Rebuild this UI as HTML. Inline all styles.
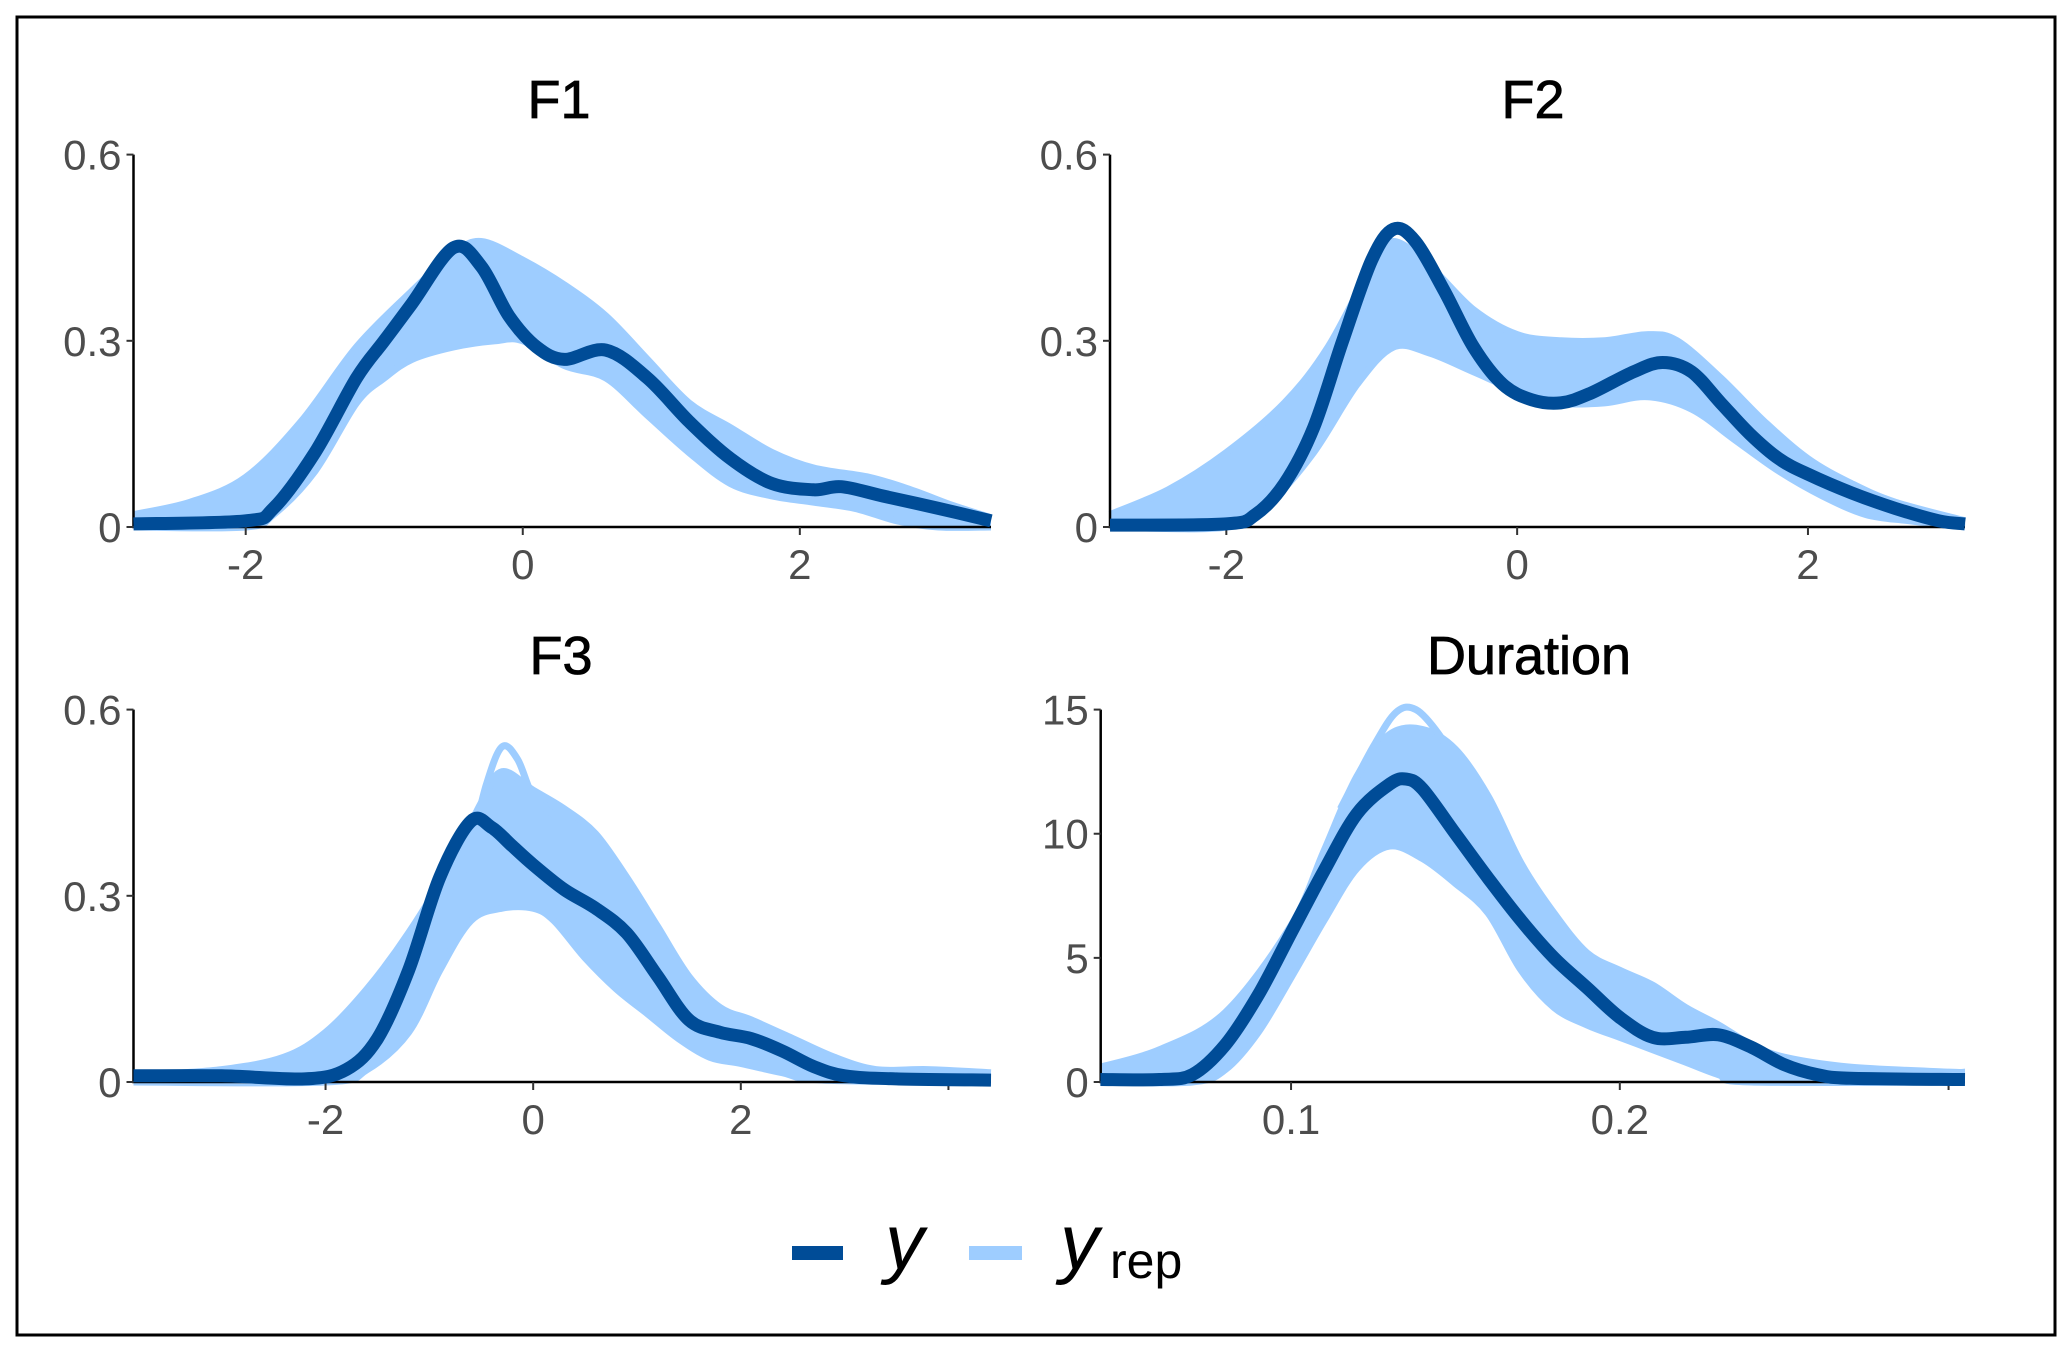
<!DOCTYPE html>
<html><head><meta charset="utf-8"><style>
html,body{margin:0;padding:0;background:#fff}
svg{display:block}
text{font-family:"Liberation Sans",sans-serif}
</style></head><body>
<svg id="chart" width="2072" height="1354" viewBox="0 0 2072 1354">
<rect x="17" y="17" width="2038" height="1318" fill="#fff" stroke="#000" stroke-width="3"/>
<g id="panels"></g>
<g>
<rect x="792" y="1246" width="51" height="14" fill="#004c97"/>
<text x="885" y="1269" font-size="78" font-style="italic" fill="#000">y</text>
<rect x="969" y="1246" width="53" height="14" fill="#9ecdff"/>
<text x="1060" y="1269" font-size="78" font-style="italic" fill="#000">y</text>
<text x="1110" y="1278" font-size="50" fill="#000">rep</text>
</g>
</svg>
<script>
// ---- data ----
const f1Y = [[-2.81,0.005],[-2,0.01],[-1.8,0.03],[-1.5,0.12],[-1.2,0.24],[-1,0.3],[-0.8,0.36],[-0.5,0.45],[-0.3,0.42],[-0.1,0.34],[0.1,0.29],[0.3,0.27],[0.6,0.285],[0.9,0.24],[1.2,0.17],[1.5,0.11],[1.8,0.07],[2.1,0.06],[2.3,0.065],[2.6,0.05],[3.0,0.03],[3.38,0.01]];
const f1High = [[-2.81,0.02],[-2.4,0.04],[-2,0.08],[-1.6,0.17],[-1.2,0.29],[-0.8,0.38],[-0.5,0.44],[-0.3,0.46],[0,0.43],[0.3,0.39],[0.6,0.34],[0.9,0.27],[1.2,0.2],[1.5,0.16],[1.8,0.12],[2.1,0.095],[2.5,0.08],[2.8,0.06],[3.1,0.035],[3.38,0.015]];
const f1Low = [[-2.81,0],[-2,0],[-1.8,0.02],[-1.5,0.09],[-1.2,0.2],[-1,0.24],[-0.8,0.27],[-0.5,0.29],[-0.2,0.3],[0,0.3],[0.3,0.26],[0.6,0.24],[0.9,0.18],[1.2,0.12],[1.5,0.07],[1.8,0.05],[2.1,0.04],[2.4,0.03],[2.7,0.01],[3.0,0],[3.38,0]];
const f2Y = [[-2.8,0.003],[-2,0.005],[-1.8,0.02],[-1.6,0.07],[-1.4,0.16],[-1.2,0.3],[-1.0,0.43],[-0.85,0.48],[-0.7,0.46],[-0.5,0.38],[-0.3,0.29],[-0.1,0.23],[0.1,0.205],[0.3,0.2],[0.5,0.215],[0.8,0.25],[1.0,0.265],[1.2,0.25],[1.4,0.2],[1.6,0.15],[1.8,0.11],[2.0,0.085],[2.3,0.055],[2.6,0.03],[2.9,0.01],[3.08,0.005]];
const f2High = [[-2.8,0.02],[-2.4,0.06],[-2,0.12],[-1.6,0.2],[-1.3,0.29],[-1.0,0.42],[-0.85,0.46],[-0.6,0.42],[-0.3,0.35],[0,0.31],[0.3,0.3],[0.6,0.3],[0.9,0.31],[1.1,0.3],[1.4,0.24],[1.7,0.17],[2,0.11],[2.3,0.07],[2.6,0.04],[3.08,0.01]];
const f2Low = [[-2.8,0],[-2,0],[-1.7,0.04],[-1.4,0.12],[-1.1,0.23],[-0.85,0.29],[-0.6,0.28],[-0.3,0.25],[0,0.22],[0.3,0.2],[0.6,0.2],[0.9,0.21],[1.2,0.19],[1.5,0.14],[1.8,0.09],[2.1,0.05],[2.4,0.02],[2.7,0.01],[3.08,0]];
const f3Y = [[-3.85,0.01],[-3,0.01],[-2.2,0.005],[-1.8,0.02],[-1.5,0.07],[-1.2,0.18],[-0.9,0.33],[-0.6,0.42],[-0.4,0.41],[-0.2,0.38],[0,0.35],[0.3,0.31],[0.6,0.28],[0.9,0.24],[1.2,0.17],[1.5,0.1],[1.8,0.08],[2.1,0.07],[2.4,0.05],[2.7,0.025],[3.0,0.01],[3.5,0.005],[4.41,0.003]];
const f3High = [[-3.85,0.01],[-3,0.02],[-2.4,0.04],[-2,0.08],[-1.6,0.15],[-1.2,0.24],[-0.8,0.35],[-0.5,0.45],[-0.3,0.5],[0,0.47],[0.3,0.44],[0.6,0.4],[0.9,0.33],[1.2,0.25],[1.5,0.17],[1.8,0.12],[2.1,0.1],[2.5,0.07],[2.9,0.04],[3.3,0.02],[3.8,0.02],[4.41,0.015]];
const f3Low = [[-3.85,0],[-2,0],[-1.6,0.02],[-1.2,0.08],[-0.9,0.18],[-0.6,0.26],[-0.3,0.28],[0,0.28],[0.2,0.26],[0.5,0.2],[0.8,0.15],[1.1,0.11],[1.4,0.07],[1.7,0.04],[2.0,0.03],[2.4,0.015],[2.8,0.003],[4.41,0]];
const f3Spike = [[-0.75,0.3],[-0.6,0.38],[-0.45,0.48],[-0.3,0.54],[-0.15,0.52],[0,0.46],[0.2,0.43]];
const durY = [[0.042,0.1],[0.06,0.1],[0.07,0.3],[0.08,1.5],[0.09,3.5],[0.1,6.0],[0.11,8.5],[0.12,10.8],[0.13,12.0],[0.135,12.2],[0.14,11.8],[0.15,10.0],[0.16,8.2],[0.17,6.5],[0.18,5.0],[0.19,3.8],[0.2,2.6],[0.21,1.8],[0.22,1.8],[0.23,1.9],[0.24,1.4],[0.25,0.7],[0.26,0.3],[0.27,0.15],[0.305,0.1]];
const durHigh = [[0.042,0.6],[0.06,1.3],[0.08,2.8],[0.1,6.3],[0.11,9.3],[0.12,12.3],[0.13,14.0],[0.14,14.2],[0.15,13.4],[0.16,11.5],[0.17,8.8],[0.18,6.8],[0.19,5.2],[0.2,4.5],[0.21,3.9],[0.22,3.0],[0.23,2.3],[0.24,1.5],[0.25,1.0],[0.27,0.6],[0.3,0.4],[0.305,0.4]];
const durLow = [[0.042,0],[0.07,0],[0.08,0.5],[0.09,2.0],[0.1,4.2],[0.11,6.5],[0.12,8.6],[0.13,9.5],[0.14,9.0],[0.15,8.0],[0.16,6.8],[0.17,4.5],[0.18,3.0],[0.19,2.3],[0.2,1.8],[0.21,1.3],[0.22,0.8],[0.23,0.3],[0.24,0],[0.305,0]];
const durSpike = [[0.115,11],[0.125,13.5],[0.132,14.9],[0.138,15.0],[0.145,14.0],[0.15,12.8]];
const f1XTicks = [-2,0,2], f1XLabels = ["-2","0","2"];
const f3XTicks = [-2,0,2,4], f3XLabels = ["-2","0","2",""];
const durXTicks = [0.1,0.2,0.3], durXLabels = ["0.1","0.2",""];
const smallYTicks = [0,0.3,0.6], smallYLabels = ["0","0.3","0.6"];
const durYTicks = [0,5,10,15], durYLabels = ["0","5","10","15"];

const panels = [
 {name:"f1", title:"F1", tx:559, ty:118, x0:133.5, x1:991, y0:527, y1:154.6, dom:[-2.81,3.38], ymax:0.6, yt:smallYTicks, yl:smallYLabels, xt:f1XTicks, xl:f1XLabels, y:f1Y, hi:f1High, lo:f1Low, extra:[]},
 {name:"f2", title:"F2", tx:1533, ty:118, x0:1110, x1:1965, y0:527, y1:154.6, dom:[-2.8,3.08], ymax:0.6, yt:smallYTicks, yl:smallYLabels, xt:f1XTicks, xl:f1XLabels, y:f2Y, hi:f2High, lo:f2Low, extra:[]},
 {name:"f3", title:"F3", tx:561, ty:674, x0:133.5, x1:991, y0:1082, y1:709.6, dom:[-3.85,4.41], ymax:0.6, yt:smallYTicks, yl:smallYLabels, xt:f3XTicks, xl:f3XLabels, y:f3Y, hi:f3High, lo:f3Low, extra:[f3Spike]},
 {name:"duration", title:"Duration", tx:1529, ty:674, x0:1100.7, x1:1965, y0:1082, y1:709.6, dom:[0.0421,0.305], ymax:15, yt:durYTicks, yl:durYLabels, xt:durXTicks, xl:durXLabels, y:durY, hi:durHigh, lo:durLow, extra:[durSpike]}
];
const NS="http://www.w3.org/2000/svg";
const root=document.getElementById("panels");
function mk(tag,attrs,parent){const e=document.createElementNS(NS,tag);for(const k in attrs)e.setAttribute(k,attrs[k]);parent.appendChild(e);return e;}
function pathFrom(pts){
  let d="M"+pts[0][0].toFixed(1)+","+pts[0][1].toFixed(1);
  for(let i=0;i<pts.length-1;i++){
    const p0=pts[i-1]||pts[i],p1=pts[i],p2=pts[i+1],p3=pts[i+2]||p2;
    const c1=[p1[0]+(p2[0]-p0[0])/6,p1[1]+(p2[1]-p0[1])/6];
    const c2=[p2[0]-(p3[0]-p1[0])/6,p2[1]-(p3[1]-p1[1])/6];
    d+=" C"+c1[0].toFixed(1)+","+c1[1].toFixed(1)+" "+c2[0].toFixed(1)+","+c2[1].toFixed(1)+" "+p2[0].toFixed(1)+","+p2[1].toFixed(1);
  }
  return d;
}
panels.forEach(p=>{
  const g=mk("g",{},root);
  
  
  const sx=v=>p.x0+(v-p.dom[0])/(p.dom[1]-p.dom[0])*(p.x1-p.x0);
  const sy=v=>p.y0-(v/p.ymax)*(p.y0-p.y1);
  const proj=a=>a.map(d=>[sx(d[0]),sy(d[1])]);
  const t=mk("text",{x:p.tx,y:p.ty,"font-size":54,"text-anchor":"middle",fill:"#000",stroke:"#000","stroke-width":0.8},g);
  t.textContent=p.title;
  
  
  const hi=proj(p.hi), lo=proj(p.lo);
  const band=mk("path",{d:pathFrom(hi)+" L"+lo[lo.length-1].join(",")+" "+pathFrom(lo.slice().reverse()).slice(1)+" Z",fill:"#9ecdff",stroke:"none"},g);
  
  
  [hi,lo].concat(p.extra.map(proj)).forEach((pts,i)=>{
    const l=mk("path",{d:pathFrom(pts),fill:"none",stroke:"#9ecdff","stroke-width":7,"stroke-linejoin":"round"},g);
    
    
  });
  const ax=mk("path",{d:"M"+p.x0+","+p.y1+" L"+p.x0+","+p.y0+" L"+p.x1+","+p.y0,fill:"none",stroke:"#000","stroke-width":2.5},g);
  
  
  p.yt.forEach((v,i)=>{
    const y=sy(v);
    const tk=mk("line",{x1:p.x0-7,x2:p.x0,y1:y,y2:y,stroke:"#333","stroke-width":2},g);
    
    
    const tl=mk("text",{x:p.x0-12,y:y+15,"font-size":42,"text-anchor":"end",fill:"#4d4d4d"},g);
    tl.textContent=p.yl[i];
    
    
  });
  p.xt.forEach((v,i)=>{
    const x=sx(v);
    const tk=mk("line",{x1:x,x2:x,y1:p.y0,y2:p.y0+8,stroke:"#333","stroke-width":2},g);
    
    
    const tl=mk("text",{x:x,y:p.y0+52,"font-size":42,"text-anchor":"middle",fill:"#4d4d4d"},g);
    tl.textContent=p.xl[i];
    
    
  });
  const yl=mk("path",{d:pathFrom(proj(p.y)),fill:"none",stroke:"#004c97","stroke-width":13,"stroke-linejoin":"round"},g);
  
  
});
</script>
</body></html>
